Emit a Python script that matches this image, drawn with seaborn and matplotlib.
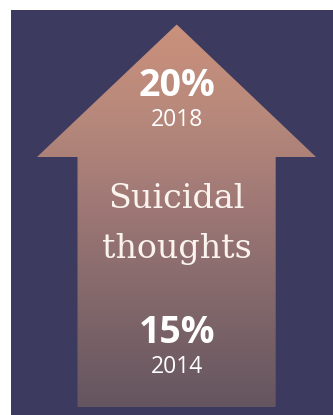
import numpy as np
import matplotlib
matplotlib.use("Agg")
import matplotlib.pyplot as plt
import seaborn as sns
from matplotlib.patches import Polygon
from matplotlib.colors import LinearSegmentedColormap

# Data
label_lines = ["Suicidal", "thoughts"]
years = ["2018", "2014"]
percent_values = [20, 15]

sns.set_theme(style="white")
plt.rcParams['font.family'] = ['DejaVu Sans']

W, H = 333, 415
fig = plt.figure(figsize=(W / 100, H / 100), dpi=100)
ax = fig.add_axes([0, 0, 1, 1])
ax.set_xlim(0, W)
ax.set_ylim(H, 0)
ax.axis("off")
fig.patch.set_facecolor("white")

navy = "#3c3b5f"
ax.add_patch(plt.Rectangle((11, 10), W - 11, H - 10, color=navy, lw=0, zorder=0))

# arrow shape
cx = 176.7
tip_y, head_y, bot_y = 24.5, 157, 407
head_l, head_r = 37, 316
shaft_l, shaft_r = 77.5, 275.7
verts = [(cx, tip_y), (head_r, head_y), (shaft_r, head_y), (shaft_r, bot_y),
         (shaft_l, bot_y), (shaft_l, head_y), (head_l, head_y)]
poly = Polygon(verts, closed=True, facecolor="none", edgecolor="none", zorder=1)
ax.add_patch(poly)

cmap = LinearSegmentedColormap.from_list(
    "grad", ["#cb917c", "#b6887b", "#9c7675", "#7f6669", "#655560"])
grad = np.linspace(0, 1, 256).reshape(-1, 1)
im = ax.imshow(grad, cmap=cmap, aspect="auto",
               extent=(head_l, head_r, bot_y, tip_y), zorder=1, interpolation="bilinear")
im.set_clip_path(poly)
ax.set_xlim(0, W)
ax.set_ylim(H, 0)

white = "white"
sans = ["Open Sans", "DejaVu Sans"]
# top value
ax.text(cx, 96, f"{percent_values[0]}%", ha="center", va="baseline", color=white,
        fontsize=27, fontweight="bold", family=sans, zorder=3)
ax.text(cx, 126, years[0], ha="center", va="baseline", color=white,
        fontsize=16.5, family=sans, zorder=3)
# label
ax.text(cx, 208, label_lines[0], ha="center", va="baseline", color="#fbf4ee",
        fontsize=24, family=["DejaVu Serif"], zorder=3)
ax.text(cx, 258, label_lines[1], ha="center", va="baseline", color="#fbf4ee",
        fontsize=24, family=["DejaVu Serif"], zorder=3)
# bottom value
ax.text(cx, 343, f"{percent_values[1]}%", ha="center", va="baseline", color=white,
        fontsize=27, fontweight="bold", family=sans, zorder=3)
ax.text(cx, 373, years[1], ha="center", va="baseline", color=white,
        fontsize=16.5, family=sans, zorder=3)

fig.savefig("out.png", dpi=100)
